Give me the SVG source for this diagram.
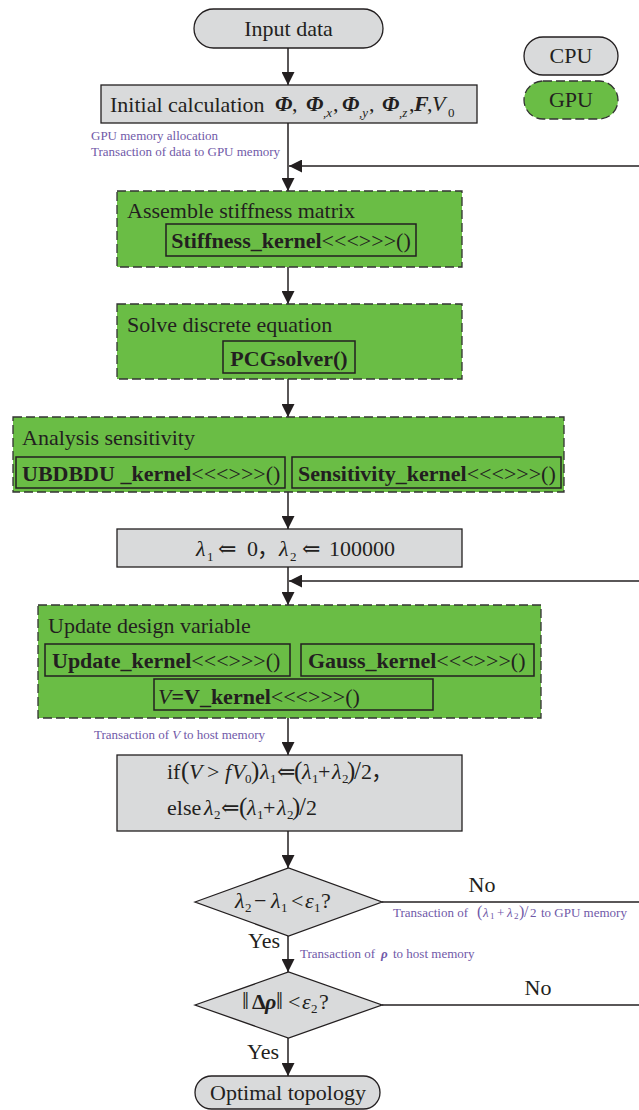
<svg xmlns="http://www.w3.org/2000/svg" width="639" height="1110" viewBox="0 0 639 1110">
  <defs>
    <style>
      .t { font-family: "Liberation Serif", "DejaVu Serif", serif; font-size: 22px; fill: #231f20; }
      .b { font-weight: bold; }
      .i { font-style: italic; }
      .bi { font-weight: bold; font-style: italic; }
      .sub { font-size: 13px; }
      .big { font-size: 25px; }
      .note { font-family: "Liberation Serif", "DejaVu Serif", serif; font-size: 13px; fill: #7059a8; }
      .note .sub { font-size: 9px; }
      .note .big { font-size: 16px; }
      .gray { fill: #d9dadb; stroke: #231f20; stroke-width: 1.3; }
      .gpu { fill: #6abd45; stroke: #333333; stroke-width: 1.3; stroke-dasharray: 9 4; }
      .inner { fill: none; stroke: #231f20; stroke-width: 1.5; }
      .conn { fill: none; stroke: #231f20; stroke-width: 1.5; }
      .cjk { font-family: "Liberation Serif", "Noto Sans CJK SC", serif; }
    </style>
    <marker id="arrow" markerUnits="userSpaceOnUse" markerWidth="14" markerHeight="13" refX="13" refY="6.5" orient="auto">
      <path d="M0,0 L13,6.5 L0,13 z" fill="#231f20"/>
    </marker>
  </defs>

  <rect width="639" height="1110" fill="#ffffff"/>

  <!-- connectors -->
  <g id="connectors">
    <line class="conn" x1="288" y1="48" x2="288" y2="85" marker-end="url(#arrow)"/>
    <line class="conn" x1="288" y1="123" x2="288" y2="191" marker-end="url(#arrow)"/>
    <line class="conn" x1="639" y1="166" x2="289" y2="166" marker-end="url(#arrow)"/>
    <line class="conn" x1="288" y1="267" x2="288" y2="304" marker-end="url(#arrow)"/>
    <line class="conn" x1="288" y1="379" x2="288" y2="417" marker-end="url(#arrow)"/>
    <line class="conn" x1="288" y1="492" x2="288" y2="529" marker-end="url(#arrow)"/>
    <line class="conn" x1="288" y1="567" x2="288" y2="605" marker-end="url(#arrow)"/>
    <line class="conn" x1="639" y1="581" x2="289" y2="581" marker-end="url(#arrow)"/>
    <line class="conn" x1="288" y1="718" x2="288" y2="755" marker-end="url(#arrow)"/>
    <line class="conn" x1="288" y1="831" x2="288" y2="868" marker-end="url(#arrow)"/>
    <line class="conn" x1="288" y1="936" x2="288" y2="972" marker-end="url(#arrow)"/>
    <line class="conn" x1="288" y1="1038" x2="288" y2="1076" marker-end="url(#arrow)"/>
    <line class="conn" x1="382" y1="902" x2="639" y2="902"/>
    <line class="conn" x1="382" y1="1005" x2="639" y2="1005"/>

    <!-- connector labels -->
    <text class="note" x="91" y="140">GPU memory allocation</text>
    <text class="note" x="91" y="156">Transaction of data to GPU memory</text>
    <text class="note" x="94" y="739">Transaction of <tspan class="i">V</tspan> to host memory</text>
    <text class="t" x="482" y="892" text-anchor="middle">No</text>
    <text class="note" y="917"><tspan x="393">Transaction of</tspan><tspan class="big" x="477">(</tspan><tspan class="i" x="483">λ</tspan><tspan class="sub" x="490" y="919">1</tspan><tspan x="497" y="917">+</tspan><tspan class="i" x="507">λ</tspan><tspan class="sub" x="514" y="919">2</tspan><tspan class="big" x="519" y="917">)</tspan><tspan class="big" x="524">/</tspan><tspan x="530">2</tspan><tspan x="541">to GPU memory</tspan></text>
    <text class="t" x="248" y="948">Yes</text>
    <text class="note" y="958"><tspan x="300">Transaction of</tspan><tspan class="bi" x="381">ρ</tspan><tspan x="393">to host memory</tspan></text>
    <text class="t" x="538" y="995" text-anchor="middle">No</text>
    <text class="t" x="247" y="1059">Yes</text>
  </g>

  <!-- start terminator -->
  <g id="node-input">
    <rect class="gray" x="194" y="9" width="189" height="39" rx="19.5"/>
    <text class="t" x="288.5" y="36" text-anchor="middle">Input data</text>
  </g>

  <!-- legend -->
  <g id="legend-cpu">
    <rect class="gray" x="524" y="37" width="94" height="38" rx="19"/>
    <text class="t" x="571" y="63" text-anchor="middle">CPU</text>
  </g>
  <g id="legend-gpu">
    <rect class="gpu" x="524" y="81" width="94" height="38" rx="19"/>
    <text class="t" x="571" y="107" text-anchor="middle">GPU</text>
  </g>

  <!-- initial calculation -->
  <g id="node-init">
    <rect class="gray" x="101" y="85" width="376" height="38"/>
    <text class="t" x="110" y="112">Initial calculation</text>
    <text class="t" y="111"><tspan class="bi" x="275">Φ</tspan><tspan x="292">,</tspan><tspan class="bi" x="306">Φ</tspan><tspan class="sub i" x="323" y="117">,x</tspan><tspan x="333" y="111">,</tspan><tspan class="bi" x="342">Φ</tspan><tspan class="sub i" x="359" y="117">,y</tspan><tspan x="369" y="111">,</tspan><tspan class="bi" x="382">Φ</tspan><tspan class="sub i" x="399" y="117">,z</tspan><tspan x="409" y="111">,</tspan><tspan class="bi" x="414">F</tspan><tspan x="427">,</tspan><tspan class="i" x="432">V</tspan><tspan class="sub" x="448" y="117">0</tspan></text>
  </g>

  <!-- stiffness assembly -->
  <g id="node-stiffness">
    <rect class="gpu" x="117" y="191" width="345" height="76"/>
    <text class="t" x="127" y="218">Assemble stiffness matrix</text>
    <rect class="inner" x="166" y="224" width="250" height="32"/>
    <text class="t" x="291" y="248" text-anchor="middle"><tspan class="b">Stiffness_kernel</tspan>&lt;&lt;&lt;&gt;&gt;&gt;()</text>
  </g>

  <!-- equation solve -->
  <g id="node-solve">
    <rect class="gpu" x="117" y="304" width="345" height="75"/>
    <text class="t" x="127" y="332">Solve discrete equation</text>
    <rect class="inner" x="223" y="341" width="132" height="32"/>
    <text class="t b" x="289" y="366" text-anchor="middle">PCGsolver()</text>
  </g>

  <!-- sensitivity analysis -->
  <g id="node-sensitivity">
    <rect class="gpu" x="13" y="417" width="551" height="75"/>
    <text class="t" x="22" y="445">Analysis sensitivity</text>
    <rect class="inner" x="16" y="457" width="269" height="31"/>
    <text class="t" x="22" y="481"><tspan class="b">UBDBDU _kernel</tspan>&lt;&lt;&lt;&gt;&gt;&gt;()</text>
    <rect class="inner" x="292" y="457" width="269" height="31"/>
    <text class="t" x="298" y="481"><tspan class="b">Sensitivity_kernel</tspan>&lt;&lt;&lt;&gt;&gt;&gt;()</text>
  </g>

  <!-- multiplier initialisation -->
  <g id="node-lambda">
    <rect class="gray" x="117" y="529" width="345" height="38"/>
    <text class="t" y="556"><tspan class="i" x="196">λ</tspan><tspan class="sub" x="207" y="561">1</tspan><tspan x="218" y="556">⇐</tspan><tspan x="247">0</tspan><tspan class="cjk" x="257">，</tspan><tspan class="i" x="279">λ</tspan><tspan class="sub" x="290" y="561">2</tspan><tspan x="302" y="556">⇐</tspan><tspan x="329">100000</tspan></text>
  </g>

  <!-- design variable update -->
  <g id="node-update">
    <rect class="gpu" x="38" y="605" width="503" height="113"/>
    <text class="t" x="48" y="633">Update design variable</text>
    <rect class="inner" x="45" y="644" width="245" height="32"/>
    <text class="t" x="52" y="668"><tspan class="b">Update_kernel</tspan>&lt;&lt;&lt;&gt;&gt;&gt;()</text>
    <rect class="inner" x="301" y="644" width="233" height="32"/>
    <text class="t" x="308" y="668"><tspan class="b">Gauss_kernel</tspan>&lt;&lt;&lt;&gt;&gt;&gt;()</text>
    <rect class="inner" x="154" y="679" width="279" height="31"/>
    <text class="t" x="158" y="704"><tspan class="i">V</tspan><tspan class="b">=V_kernel</tspan>&lt;&lt;&lt;&gt;&gt;&gt;()</text>
  </g>

  <!-- bisection step -->
  <g id="node-bisect">
    <rect class="gray" x="117" y="755" width="345" height="76"/>
    <text class="t" y="779"><tspan x="167">if</tspan><tspan class="big" x="181">(</tspan><tspan class="i" x="189">V</tspan><tspan x="207">&gt;</tspan><tspan class="i" x="225">f</tspan><tspan class="i" x="232">V</tspan><tspan class="sub" x="245" y="783">0</tspan><tspan class="big" x="251" y="779">)</tspan><tspan class="i" x="260">λ</tspan><tspan class="sub" x="270" y="783">1</tspan><tspan x="277" y="779">⇐</tspan><tspan class="big" x="294">(</tspan><tspan class="i" x="302">λ</tspan><tspan class="sub" x="312" y="783">1</tspan><tspan x="318" y="779">+</tspan><tspan class="i" x="332">λ</tspan><tspan class="sub" x="342" y="783">2</tspan><tspan class="big" x="347" y="779">)</tspan><tspan class="big" x="354">/</tspan><tspan x="361">2</tspan><tspan class="cjk" x="371">，</tspan></text>
    <text class="t" y="815"><tspan x="167">else</tspan><tspan class="i" x="204">λ</tspan><tspan class="sub" x="214" y="819">2</tspan><tspan x="221" y="815">⇐</tspan><tspan class="big" x="239">(</tspan><tspan class="i" x="247">λ</tspan><tspan class="sub" x="257" y="819">1</tspan><tspan x="263" y="815">+</tspan><tspan class="i" x="277">λ</tspan><tspan class="sub" x="287" y="819">2</tspan><tspan class="big" x="292" y="815">)</tspan><tspan class="big" x="299">/</tspan><tspan x="306">2</tspan></text>
  </g>

  <!-- inner convergence check -->
  <g id="node-check1">
    <polygon class="gray" points="195,902 288.5,868 382,902 288.5,936"/>
    <text class="t" y="908"><tspan class="i" x="235">λ</tspan><tspan class="sub" x="245" y="912">2</tspan><tspan x="254" y="908">−</tspan><tspan class="i" x="271">λ</tspan><tspan class="sub" x="281" y="912">1</tspan><tspan x="291" y="908">&lt;</tspan><tspan class="i" x="305">ε</tspan><tspan class="sub" x="314" y="912">1</tspan><tspan x="321" y="908">?</tspan></text>
  </g>

  <!-- outer convergence check -->
  <g id="node-check2">
    <polygon class="gray" points="195,1005 288.5,972 382,1005 288.5,1038"/>
    <text class="t" y="1009"><tspan class="big" x="242">‖</tspan><tspan class="b" x="252">Δ</tspan><tspan class="bi" x="265">ρ</tspan><tspan class="big" x="276">‖</tspan><tspan x="288">&lt;</tspan><tspan class="i" x="302">ε</tspan><tspan class="sub" x="311" y="1013">2</tspan><tspan x="319" y="1009">?</tspan></text>
  </g>

  <!-- end terminator -->
  <g id="node-optimal">
    <rect class="gray" x="195" y="1076" width="185" height="33" rx="16.5"/>
    <text class="t" x="288" y="1100" text-anchor="middle">Optimal topology</text>
  </g>
</svg>
